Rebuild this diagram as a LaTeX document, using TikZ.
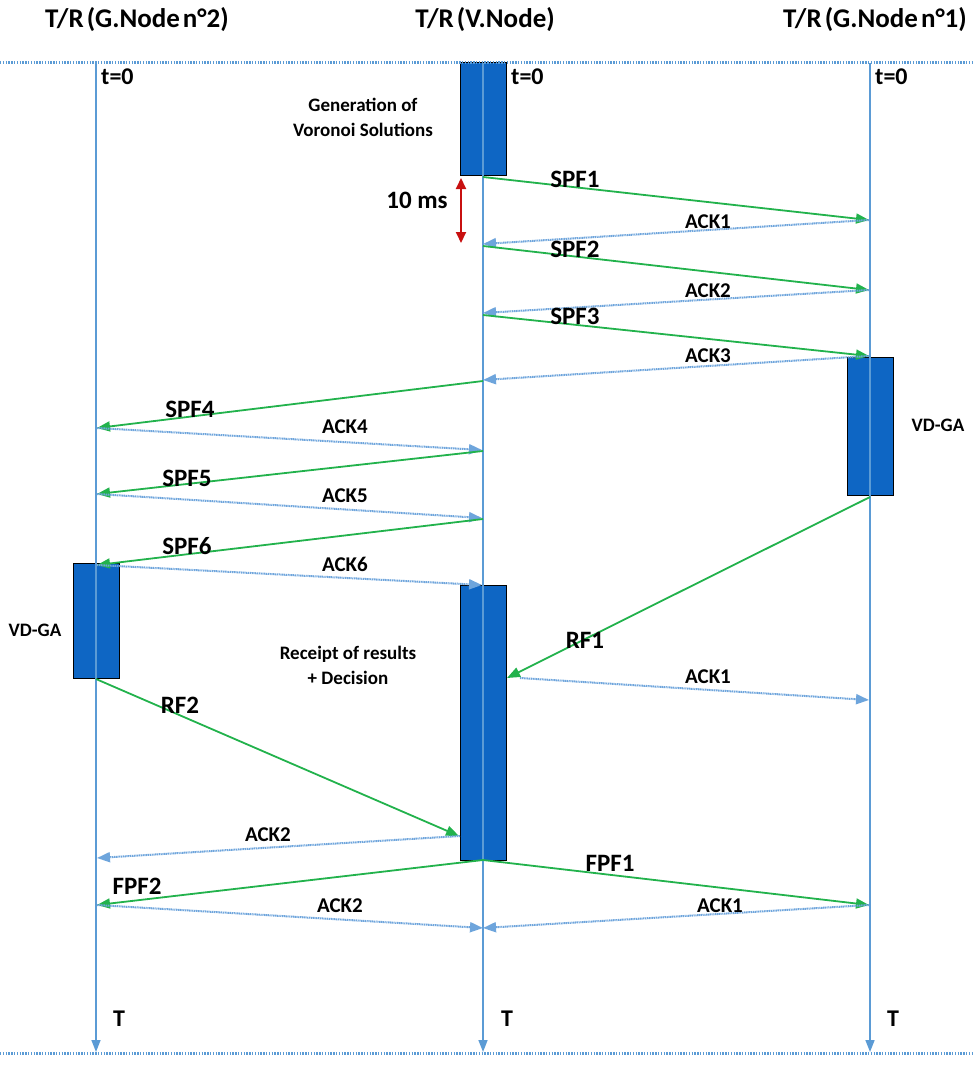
\documentclass[tikz,border=0pt]{standalone}
\usepackage{fontspec}
\setmainfont{Carlito}
\usetikzlibrary{arrows.meta}
\definecolor{lblue}{RGB}{91,155,213}
\definecolor{ablue}{RGB}{110,165,220}
\definecolor{bfill}{RGB}{14,102,196}
\definecolor{agreen}{RGB}{34,178,76}
\definecolor{ared}{RGB}{200,16,16}
\tikzset{
  life/.style={lblue, line width=1.6pt, -{Triangle[length=12pt,width=9pt]}},
  sepline/.style={lblue, line width=3pt, dash pattern=on 1.3pt off 1.5pt},
  act/.style={draw=black, fill=bfill, line width=1pt, inner sep=0pt, minimum width=46pt},
  msg/.style={agreen, line width=1.8pt, -{Triangle[length=13pt,width=10pt]}},
  ack/.style={ablue, line width=2pt, dash pattern=on 1.2pt off 0.6pt, -{Triangle[length=13pt,width=10pt]}},
  lbl/.style={font=\bfseries\fontsize{25}{27}\selectfont, inner sep=0pt},
  albl/.style={font=\bfseries\fontsize{21}{23}\selectfont, inner sep=0pt},
  title/.style={font=\bfseries\fontsize{27}{29}\selectfont, inner sep=0pt},
  small/.style={font=\bfseries\fontsize{19}{25}\selectfont, inner sep=0pt, align=center},
  tlbl/.style={font=\bfseries\fontsize{24}{26}\selectfont, inner sep=0pt, anchor=west},
}
\begin{document}
\begin{tikzpicture}[x=1pt,y=-1pt]
\useasboundingbox (0,0) rectangle (974,1070);
% titles
\node[title] (t2) at (137,20) {T/R\hspace{3pt}(G.Node\hspace{3pt}n°2)};
\node[title] (tv) at (485,20) {T/R\hspace{3pt}(V.Node)};
\node[title] (t1) at (875,20) {T/R\hspace{3pt}(G.Node\hspace{3pt}n°1)};
% activation boxes
\node[act, anchor=north west, minimum height=113pt] (bv1) at (460,62) {};
\node[act, anchor=north west, minimum height=138pt] (br) at (847,357) {};
\node[act, anchor=north west, minimum height=115pt] (bl) at (73,563) {};
\node[act, anchor=north west, minimum height=275pt] (bv2) at (460,585) {};
% lifelines
\coordinate (Ltop) at (96,63);  \coordinate (Lbot) at (96,1052);
\coordinate (Vtop) at (483,63); \coordinate (Vbot) at (483,1052);
\coordinate (Rtop) at (870,63); \coordinate (Rbot) at (870,1052);
\draw[life] (Ltop) -- (Lbot);
\draw[life] (Vtop) -- (Vbot);
\draw[life] (Rtop) -- (Rbot);
% separators
\coordinate (s1a) at (0,63);   \coordinate (s1b) at (974,63);
\coordinate (s2a) at (0,1053); \coordinate (s2b) at (974,1053);
\draw[sepline] (s1a) -- (s1b);
\draw[sepline] (s2a) -- (s2b);
% t=0 and T labels
\node[tlbl] (z2) at (101,77) {t=0};
\node[tlbl] (zv) at (511,77) {t=0};
\node[tlbl] (z1) at (875,77) {t=0};
\node[tlbl] (e2) at (113,1019) {T};
\node[tlbl] (ev) at (501,1019) {T};
\node[tlbl] (e1) at (887,1019) {T};
% box labels
\node[small] (gen) at (363,117) {Generation of\\Voronoi Solutions};
\node[small] (vdr) at (938,425) {VD-GA};
\node[small] (vdl) at (35,630) {VD-GA};
\node[small] (rec) at (348,665) {Receipt of results\\+ Decision};
% 10 ms
\coordinate (ma) at (461,178); \coordinate (mb) at (461,243);
\draw[ared, line width=2pt, {Triangle[length=11pt,width=10pt]}-{Triangle[length=11pt,width=10pt]}] (ma) -- (mb);
\node[lbl] (ms) at (417,200) {10 ms};
% message points
\coordinate (a1) at (483,177); \coordinate (a2) at (869,220);
\coordinate (a3) at (483,244);
\coordinate (a4) at (483,246); \coordinate (a5) at (869,290);
\coordinate (a6) at (483,313);
\coordinate (a7) at (483,315); \coordinate (a8) at (869,356);
\coordinate (a9) at (483,380);
\coordinate (a10) at (483,381); \coordinate (a11) at (97,428);
\coordinate (a12) at (482,450);
\coordinate (a13) at (483,451); \coordinate (a14) at (97,494);
\coordinate (a15) at (482,518);
\coordinate (a16) at (483,519); \coordinate (a17) at (97,565);
\coordinate (a18) at (482,585);
\coordinate (r1a) at (870,497); \coordinate (r1b) at (507,678);
\coordinate (k1a) at (520,678); \coordinate (k1b) at (869,700);
\coordinate (r2a) at (96,679); \coordinate (r2b) at (459,836);
\coordinate (k2a) at (460,836); \coordinate (k2b) at (97,858);
\coordinate (f0) at (483,860); \coordinate (f1) at (869,905); \coordinate (f2) at (97,905);
\coordinate (c0) at (483,928);
% messages
\draw[msg] (a1) -- (a2);  \draw[ack] (a2) -- (a3);
\draw[msg] (a4) -- (a5);  \draw[ack] (a5) -- (a6);
\draw[msg] (a7) -- (a8);  \draw[ack] (a8) -- (a9);
\draw[msg] (a10) -- (a11); \draw[ack] (a11) -- (a12);
\draw[msg] (a13) -- (a14); \draw[ack] (a14) -- (a15);
\draw[msg] (a16) -- (a17); \draw[ack] (a17) -- (a18);
\draw[msg] (r1a) -- (r1b); \draw[ack] (k1a) -- (k1b);
\draw[msg] (r2a) -- (r2b); \draw[ack] (k2a) -- (k2b);
\draw[msg] (f0) -- (f1);  \draw[msg] (f0) -- (f2);
\draw[ack] (f2) -- (c0);  \draw[ack] (f1) -- (c0);
% labels
\node[lbl] (l1) at (575,179) {SPF1};
\node[albl] (l2) at (708,222) {ACK1};
\node[lbl] (l3) at (575,249) {SPF2};
\node[albl] (l4) at (708,291) {ACK2};
\node[lbl] (l5) at (575,316) {SPF3};
\node[albl] (l6) at (708,356) {ACK3};
\node[lbl] (l7) at (190,409) {SPF4};
\node[albl] (l8) at (345,427) {ACK4};
\node[lbl] (l9) at (187,478) {SPF5};
\node[albl] (l10) at (345,496) {ACK5};
\node[lbl] (l11) at (187,546) {SPF6};
\node[albl] (l12) at (345,564) {ACK6};
\node[lbl] (l13) at (585,640) {RF1};
\node[albl] (l14) at (708,677) {ACK1};
\node[lbl] (l15) at (180,705) {RF2};
\node[albl] (l16) at (268,835) {ACK2};
\node[lbl] (l17) at (610,863) {FPF1};
\node[lbl] (l18) at (137,886) {FPF2};
\node[albl] (l19) at (340,906) {ACK2};
\node[albl] (l20) at (720,906) {ACK1};
\end{tikzpicture}
\end{document}
